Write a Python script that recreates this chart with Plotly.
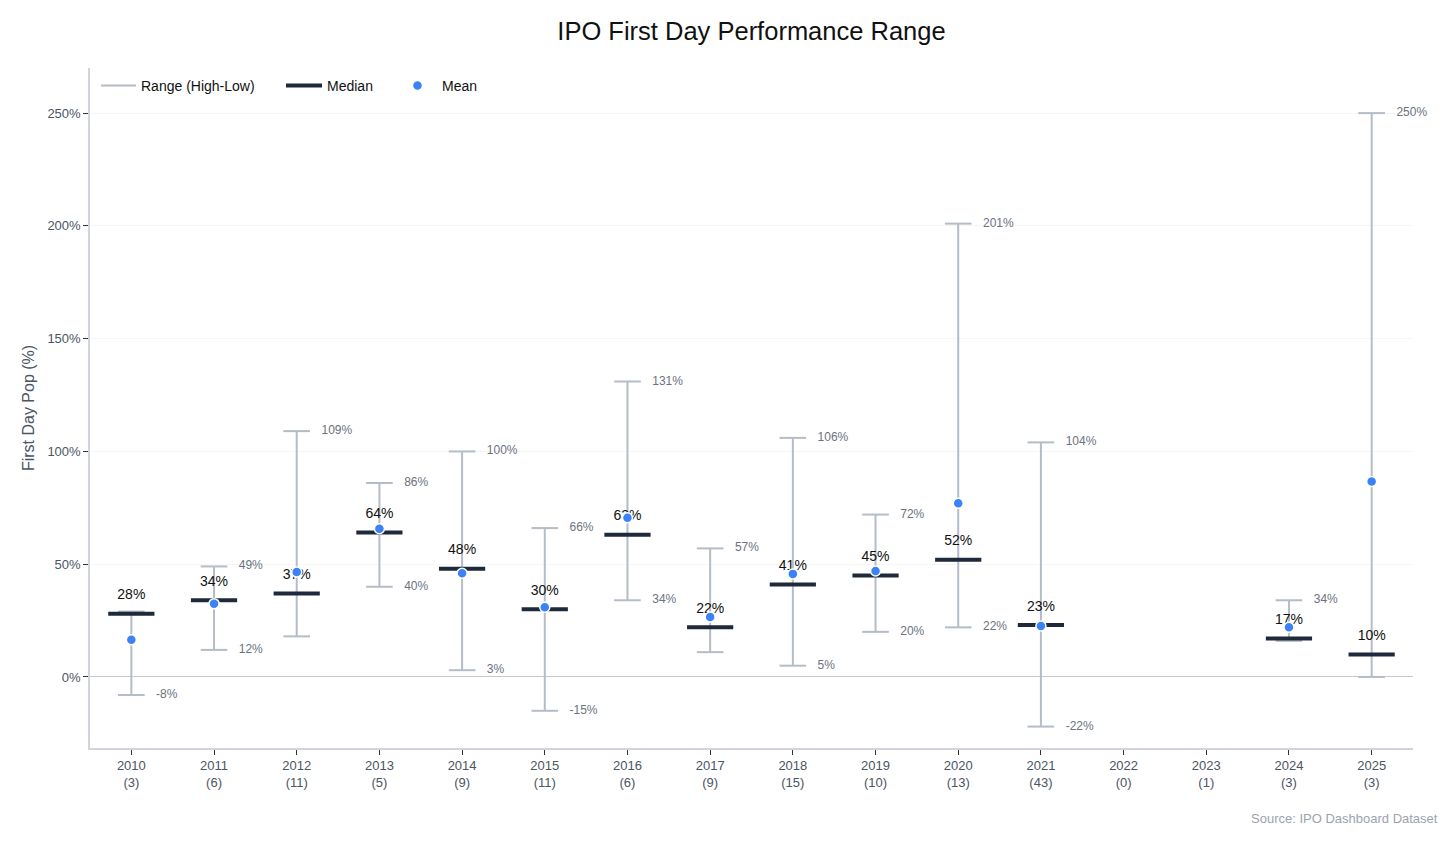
import plotly.graph_objects as go

years = ["2010", "2011", "2012", "2013", "2014", "2015", "2016", "2017",
         "2018", "2019", "2020", "2021", "2022", "2023", "2024", "2025"]
ipo_counts = [3, 6, 11, 5, 9, 11, 6, 9, 15, 10, 13, 43, 0, 1, 3, 3]
high_vals = [29, 49, 109, 86, 100, 66, 131, 57, 106, 72, 201, 104, None, None, 34, 250]
low_vals = [-8, 12, 18, 40, 3, -15, 34, 11, 5, 20, 22, -22, None, None, 16, 0]
median_vals = [28, 34, 37, 64, 48, 30, 63, 22, 41, 45, 52, 23, None, None, 17, 10]
mean_vals = [16.5, 32.5, 46.5, 65.7, 46.0, 30.9, 70.6, 26.6, 45.7, 47.0, 77.0, 22.6, None, None, 22.0, 86.7]
show_high = [False, True, True, True, True, True, True, True, True, True, True, True, False, False, True, True]
show_low = [True, True, False, True, True, True, True, False, True, True, True, True, False, False, False, False]
y_ticks = [0, 50, 100, 150, 200, 250]

idx = list(range(len(years)))
has = [i for i in idx if median_vals[i] is not None]

RANGE_C = "#b4bcc8"
MED_C = "#1e293b"
MEAN_C = "#3b82f6"
LABEL_C = "#6b7280"
FONT = "Liberation Sans, Arial, Helvetica, sans-serif"

fig = go.Figure()

# range lines
rx, ry = [], []
for i in has:
    rx += [i, i, None]
    ry += [low_vals[i], high_vals[i], None]
fig.add_trace(go.Scatter(x=rx, y=ry, mode="lines", name="Range (High-Low)",
                         legend="legend",
                         line=dict(color=RANGE_C, width=2), hoverinfo="skip"))

# caps
fig.add_trace(go.Scatter(x=[i for i in has] * 2,
                         y=[high_vals[i] for i in has] + [low_vals[i] for i in has],
                         mode="markers", showlegend=False, hoverinfo="skip",
                         marker=dict(symbol="line-ew", size=19,
                                     line=dict(color=RANGE_C, width=2))))

# high / low labels
hx = [i for i in has if show_high[i]]
lx = [i for i in has if show_low[i]]
fig.add_trace(go.Scatter(x=hx + lx,
                         y=[high_vals[i] for i in hx] + [low_vals[i] for i in lx],
                         text=[f"{high_vals[i]}%" for i in hx] + [f"{low_vals[i]}%" for i in lx],
                         mode="markers+text", textposition="middle right",
                         showlegend=False, hoverinfo="skip", cliponaxis=False,
                         marker=dict(size=38, color="rgba(0,0,0,0)"),
                         textfont=dict(size=12, color=LABEL_C, family=FONT)))

# medians
fig.add_trace(go.Scatter(x=[None], y=[None], mode="lines", name="Median",
                         legend="legend2",
                         line=dict(color=MED_C, width=4)))
fig.add_trace(go.Scatter(x=has, y=[median_vals[i] for i in has], mode="markers",
                         showlegend=False, hoverinfo="skip",
                         marker=dict(symbol="line-ew", size=33,
                                     line=dict(color=MED_C, width=4))))

# median labels
fig.add_trace(go.Scatter(x=has, y=[median_vals[i] for i in has],
                         text=[f"{median_vals[i]}%" for i in has],
                         mode="markers+text", textposition="top center",
                         showlegend=False, hoverinfo="skip", cliponaxis=False,
                         marker=dict(size=16, color="rgba(0,0,0,0)"),
                         textfont=dict(size=14, color="#111111", family=FONT)))

# means
fig.add_trace(go.Scatter(x=has, y=[mean_vals[i] for i in has], mode="markers",
                         name="Mean", legend="legend3",
                         marker=dict(color=MEAN_C, size=10,
                                     line=dict(color="white", width=1.5))))

PL, PW, PH = 90, 1323, 680   # plot left / width / height in page pixels
def px_x(p):
    return (p - PL) / PW

leg_common = dict(orientation="h", y=1 - 2 / PH, xanchor="left", yanchor="top",
                  font=dict(size=14, color="#111111", family=FONT),
                  bgcolor="rgba(0,0,0,0)")

fig.update_layout(
    width=1448, height=838,
    paper_bgcolor="white", plot_bgcolor="white",
    font=dict(family=FONT, color="#4b5563"),
    title=dict(text="IPO First Day Performance Range", xref="paper", x=0.5,
               xanchor="center", y=1 - 23 / 838, yanchor="middle",
               font=dict(size=25.5, color="#111111", family=FONT)),
    margin=dict(l=82, r=43, t=60, b=98),
    showlegend=True,
    legend=dict(x=px_x(96), itemwidth=35, **leg_common),
    legend2=dict(x=px_x(281), itemwidth=36, **leg_common),
    legend3=dict(x=px_x(393), itemwidth=39, **leg_common),
    xaxis=dict(range=[-0.5, 15.5], tickmode="array", tickvals=idx,
               ticktext=[f"{y}<br>({c})" for y, c in zip(years, ipo_counts)],
               showgrid=False, zeroline=False, showline=True,
               linecolor="#d1d5db", linewidth=1.5, ticks="outside", ticklen=5,
               tickcolor="#333333", tickfont=dict(size=13, color="#4b5563")),
    yaxis=dict(range=[-31.5, 270], tickmode="array", tickvals=y_ticks,
               ticktext=[f"{v}%" for v in y_ticks],
               showgrid=True, gridcolor="#f6f6f6",
               zeroline=True, zerolinecolor="#c8c8c8", zerolinewidth=1,
               showline=True, linecolor="#d1d5db", linewidth=1.5,
               ticks="outside", ticklen=5, tickcolor="#333333",
               tickfont=dict(size=13, color="#4b5563"),
               title=dict(text="First Day Pop (%)", standoff=9,
                          font=dict(size=16, color="#4b5563"))),
    annotations=[dict(text="Source: IPO Dashboard Dataset", xref="paper", yref="paper",
                      x=px_x(1440), y=-70 / PH, xanchor="right", yanchor="middle",
                      showarrow=False, font=dict(size=13, color="#9ca3af"))],
)

fig.write_html("out.html")
